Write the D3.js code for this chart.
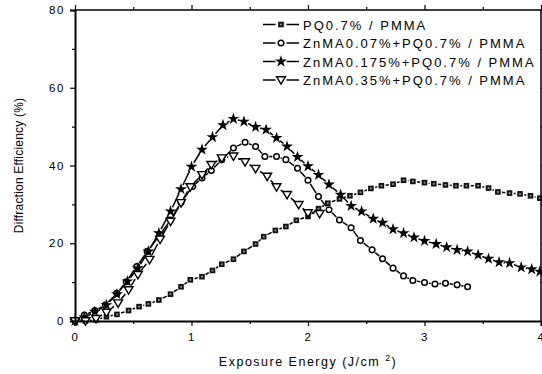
<!DOCTYPE html>
<html>
<head>
<meta charset="utf-8">
<script src="https://cdn.jsdelivr.net/npm/d3@7"></script>
<style>
	body { margin: 0; background: #fff; }
	svg { display: block; font-family: Arial, "Liberation Sans", sans-serif; }
</style>
</head>
<body>
<svg id="chart"></svg>
<script>
// Series data
const pqX = [ 0, 0.09, 0.18, 0.27, 0.36, 0.46, 0.55, 0.63, 0.72, 0.82, 0.91, 0.99, 1.09, 1.18, 1.26, 1.36, 1.45, 1.55, 1.62, 1.72, 1.81, 1.90, 2.00, 2.09, 2.17, 2.27, 2.36, 2.45, 2.54, 2.63, 2.73, 2.82, 2.90, 3.00, 3.08, 3.18, 3.27, 3.36, 3.46, 3.55, 3.63, 3.73, 3.82, 3.91, 3.99 ];
const pqY = [ 0, 0, 0.3, 1.1, 1.7, 2.7, 3.7, 4.4, 5.4, 6.9, 8.8, 10.6, 11.4, 13.0, 14.6, 15.9, 17.9, 19.8, 21.7, 23.3, 24.3, 25.9, 26.9, 28.9, 30.3, 31.4, 32.2, 33.1, 34.1, 34.8, 35.2, 36.2, 35.9, 35.6, 35.3, 35.0, 34.8, 34.8, 34.8, 34.2, 33.2, 32.9, 32.7, 32.2, 31.6 ];

const zn007X = [ 0.08, 0.17, 0.26, 0.36, 0.44, 0.53, 0.62, 0.73, 0.82, 0.91, 1.01, 1.09, 1.17, 1.26, 1.36, 1.46, 1.55, 1.63, 1.73, 1.81, 1.91, 2.00, 2.09, 2.18, 2.27, 2.37, 2.45, 2.55, 2.64, 2.73, 2.82, 2.90, 3.00, 3.09, 3.18, 3.28, 3.37 ];
const zn007Y = [ 1.5, 2.7, 4.1, 7.1, 10.1, 14.0, 17.9, 22.2, 26.0, 30.5, 34.6, 36.8, 38.7, 41.5, 44.5, 46.0, 44.9, 42.3, 42.3, 41.5, 39.3, 36.2, 32.0, 28.6, 26.0, 24.0, 20.7, 18.3, 16.0, 13.6, 11.6, 10.4, 9.9, 9.5, 9.7, 9.3, 8.8 ];

const zn0175X = [ 0, 0.08, 0.17, 0.27, 0.36, 0.45, 0.54, 0.63, 0.72, 0.82, 0.91, 1.00, 1.09, 1.18, 1.27, 1.36, 1.45, 1.55, 1.64, 1.73, 1.82, 1.91, 2.00, 2.09, 2.18, 2.28, 2.37, 2.46, 2.56, 2.64, 2.73, 2.82, 2.91, 3.00, 3.10, 3.19, 3.28, 3.37, 3.46, 3.55, 3.64, 3.73, 3.83, 3.92, 3.99 ];
const zn0175Y = [ 0, 1.0, 2.4, 4.1, 6.9, 10.2, 13.6, 17.9, 22.6, 28.2, 33.9, 39.7, 44.1, 47.3, 50.4, 52.0, 51.3, 49.9, 49.2, 47.1, 44.9, 42.2, 39.8, 37.6, 35.1, 32.5, 29.6, 28.2, 26.3, 25.3, 23.6, 22.6, 21.5, 20.6, 19.8, 19.0, 18.3, 17.9, 17.0, 16.0, 15.1, 14.9, 13.8, 13.3, 12.7 ];

const zn035X = [ 0, 0.09, 0.18, 0.27, 0.37, 0.46, 0.54, 0.64, 0.73, 0.82, 0.91, 0.99, 1.09, 1.17, 1.26, 1.36, 1.46, 1.55, 1.65, 1.73, 1.82, 1.92, 2.00, 2.10 ];
const zn035Y = [ 0, 0, 0.6, 2.2, 4.6, 8.0, 11.9, 15.8, 21.0, 25.6, 30.4, 34.5, 37.6, 40.2, 41.9, 42.4, 40.9, 39.2, 37.2, 34.5, 32.5, 29.9, 27.8, 27.6 ];

const seriesNames = [ 'PQ0.7% / PMMA', 'ZnMA0.07%+PQ0.7% / PMMA', 'ZnMA0.175%+PQ0.7% / PMMA', 'ZnMA0.35%+PQ0.7% / PMMA' ];
const xTicks = [ 0, 1, 2, 3, 4 ];
const yTicks = [ 0, 20, 40, 60, 80 ];

const width = 542;
const height = 374;
const margin = { top: 10, right: 1, bottom: 53, left: 75 };

const svg = d3.select( '#chart' )
	.attr( 'width', width )
	.attr( 'height', height );

const x = d3.scaleLinear().domain( [ 0, 4 ] ).range( [ margin.left, width - margin.right ] );
const y = d3.scaleLinear().domain( [ 0, 80 ] ).range( [ height - margin.bottom, margin.top ] );

const series = [
	{ xs: pqX, ys: pqY, marker: 'square', gap: 4.3 },
	{ xs: zn007X, ys: zn007Y, marker: 'circle', gap: 4.2 },
	{ xs: zn0175X, ys: zn0175Y, marker: 'star', gap: 4.6 },
	{ xs: zn035X, ys: zn035Y, marker: 'triangle', gap: 5.2 },
];

// Draw one marker into a group
function drawMarker( g, type, cx, cy ) {
	if ( type === 'square' ) {
		g.append( 'rect' ).attr( 'x', cx - 2.8 ).attr( 'y', cy - 2.8 )
			.attr( 'width', 5.6 ).attr( 'height', 5.6 ).attr( 'fill', '#111' );
		g.append( 'rect' ).attr( 'x', cx - 0.9 ).attr( 'y', cy - 0.9 )
			.attr( 'width', 1.8 ).attr( 'height', 1.8 ).attr( 'fill', '#999' );
	} else if ( type === 'circle' ) {
		g.append( 'circle' ).attr( 'cx', cx ).attr( 'cy', cy ).attr( 'r', 2.8 )
			.attr( 'fill', '#fff' ).attr( 'stroke', '#000' ).attr( 'stroke-width', 1.5 );
	} else if ( type === 'star' ) {
		g.append( 'path' ).attr( 'd', d3.symbol( d3.symbolStar, 44 )() )
			.attr( 'transform', `translate(${ cx },${ cy })` ).attr( 'fill', '#000' );
	} else {
		g.append( 'path' ).attr( 'd', `M${ cx - 4.4 },${ cy - 3.2 }L${ cx + 4.4 },${ cy - 3.2 }L${ cx },${ cy + 4.2 }Z` )
			.attr( 'fill', '#fff' ).attr( 'stroke', '#000' ).attr( 'stroke-width', 1.4 )
			.attr( 'stroke-linejoin', 'miter' );
	}
}

// Line broken around each symbol, Origin style
function drawSegments( g, pts, gap ) {
	for ( let i = 0; i < pts.length - 1; i++ ) {
		const [ x1, y1 ] = pts[ i ];
		const [ x2, y2 ] = pts[ i + 1 ];
		const len = Math.hypot( x2 - x1, y2 - y1 );
		if ( len <= gap * 2 + 0.5 ) continue;
		const ux = ( x2 - x1 ) / len;
		const uy = ( y2 - y1 ) / len;
		g.append( 'line' )
			.attr( 'x1', x1 + ux * gap ).attr( 'y1', y1 + uy * gap )
			.attr( 'x2', x2 - ux * gap ).attr( 'y2', y2 - uy * gap )
			.attr( 'stroke', '#000' ).attr( 'stroke-width', 1.5 );
	}
}

const plot = svg.append( 'g' );
series.forEach( ( s ) => {
	const pts = s.xs.map( ( d, i ) => [ x( d ), y( s.ys[ i ] ) ] );
	const g = plot.append( 'g' );
	drawSegments( g, pts, s.gap );
	pts.forEach( ( p ) => drawMarker( g, s.marker, p[ 0 ], p[ 1 ] ) );
} );

// Frame and axes
const x0 = x( 0 ), x1 = x( 4 ), y0 = y( 0 ), y1 = y( 80 );
const axes = svg.append( 'g' ).attr( 'stroke', '#000' );
axes.append( 'line' ).attr( 'x1', x0 ).attr( 'x2', x1 ).attr( 'y1', y1 ).attr( 'y2', y1 ).attr( 'stroke-width', 1.5 );
axes.append( 'line' ).attr( 'x1', x1 ).attr( 'x2', x1 ).attr( 'y1', y1 ).attr( 'y2', y0 ).attr( 'stroke-width', 1.5 );

const xAxis = svg.append( 'g' )
	.attr( 'transform', `translate(0,${ y0 })` )
	.call( d3.axisBottom( x ).tickValues( d3.range( 0, 4.01, 0.5 ) ).tickSize( 5 ).tickPadding( 7 )
		.tickFormat( ( d ) => ( xTicks.includes( d ) ? d : '' ) ) );
const yAxis = svg.append( 'g' )
	.attr( 'transform', `translate(${ x0 },0)` )
	.call( d3.axisLeft( y ).tickValues( d3.range( 0, 81, 10 ) ).tickSize( 5 ).tickPadding( 5 )
		.tickFormat( ( d ) => ( yTicks.includes( d ) ? d : '' ) ) );
const xTop = svg.append( 'g' )
	.attr( 'transform', `translate(0,${ y1 })` )
	.call( d3.axisTop( x ).tickValues( d3.range( 0, 4.01, 0.5 ) ).tickSize( 3 ).tickFormat( '' ) );
const yRight = svg.append( 'g' )
	.attr( 'transform', `translate(${ x1 },0)` )
	.call( d3.axisRight( y ).tickValues( d3.range( 0, 81, 10 ) ).tickSize( 3 ).tickFormat( '' ) );

[ xAxis, yAxis ].forEach( ( a ) => {
	a.select( '.domain' ).attr( 'stroke-width', 2 );
	a.selectAll( 'line' ).attr( 'stroke-width', 1.2 );
	a.selectAll( 'text' ).attr( 'font-size', 11.5 ).attr( 'letter-spacing', 1.6 )
		.attr( 'font-family', 'Arial, "Liberation Sans", sans-serif' ).attr( 'fill', '#000' );
} );
[ xTop, yRight ].forEach( ( a ) => {
	a.select( '.domain' ).remove();
	a.selectAll( 'line' ).attr( 'stroke-width', 1.2 );
} );
// minor ticks shorter
xAxis.selectAll( '.tick' ).filter( ( d ) => !xTicks.includes( d ) ).select( 'line' ).attr( 'y2', 3 );
yAxis.selectAll( '.tick' ).filter( ( d ) => !yTicks.includes( d ) ).select( 'line' ).attr( 'x2', -3 );
xTop.selectAll( '.tick' ).filter( ( d ) => xTicks.includes( d ) ).select( 'line' ).attr( 'y2', -5 );
yRight.selectAll( '.tick' ).filter( ( d ) => yTicks.includes( d ) ).select( 'line' ).attr( 'x2', 5 );

// Axis titles
svg.append( 'text' )
	.attr( 'x', ( x0 + x1 ) / 2 ).attr( 'y', 366 )
	.attr( 'text-anchor', 'middle' ).attr( 'font-size', 12.5 ).attr( 'letter-spacing', 1.5 )
	.html( 'Exposure Energy (J/cm <tspan dy="-5" font-size="8.5">2</tspan><tspan dy="5">)</tspan>' );
svg.append( 'text' )
	.attr( 'transform', `translate(23,${ ( y0 + y1 ) / 2 }) rotate(-90)` )
	.attr( 'text-anchor', 'middle' ).attr( 'font-size', 12 ).attr( 'letter-spacing', 0.2 )
	.text( 'Diffraction Efficiency (%)' );

// Legend
const legend = svg.append( 'g' );
seriesNames.forEach( ( name, i ) => {
	const ly = 24.5 + i * 18.5;
	const g = legend.append( 'g' );
	g.append( 'line' ).attr( 'x1', 263 ).attr( 'x2', 275.5 ).attr( 'y1', ly ).attr( 'y2', ly )
		.attr( 'stroke', '#000' ).attr( 'stroke-width', 1.5 );
	g.append( 'line' ).attr( 'x1', 286.5 ).attr( 'x2', 299 ).attr( 'y1', ly ).attr( 'y2', ly )
		.attr( 'stroke', '#000' ).attr( 'stroke-width', 1.5 );
	drawMarker( g, series[ i ].marker, 281, ly );
	g.append( 'text' ).attr( 'x', 303 ).attr( 'y', ly + 5 )
		.attr( 'font-size', 13 ).attr( 'letter-spacing', 2 ).text( name );
} );
</script>
</body>
</html>
